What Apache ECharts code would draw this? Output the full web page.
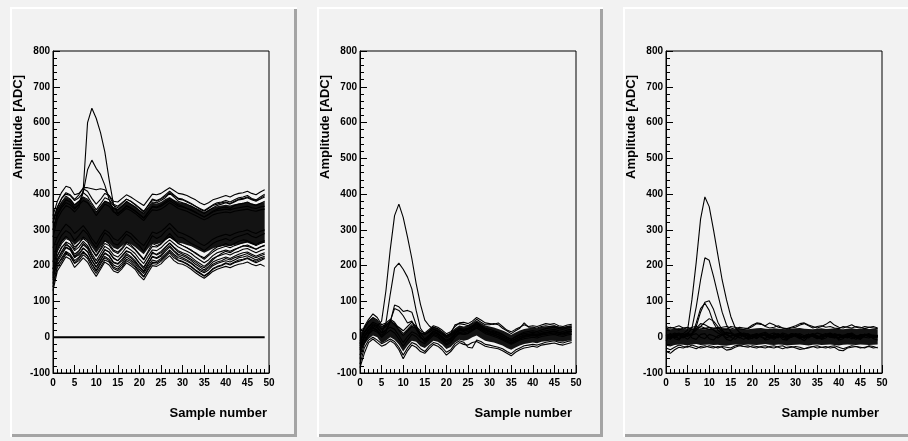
<!DOCTYPE html>
<html><head><meta charset="utf-8">
<script src="https://cdn.jsdelivr.net/npm/echarts@6/dist/echarts.min.js"></script>
<style>html,body{margin:0;padding:0;background:#f2f2f2}#c{width:908px;height:441px}</style>
</head><body><div id="c"></div><script>
const samples = [0,1,2,3,4,5,6,7,8,9,10,11,12,13,14,15,16,17,18,19,20,21,22,23,24,25,26,27,28,29,30,31,32,33,34,35,36,37,38,39,40,41,42,43,44,45,46,47,48,49];
const xTitle = 'Sample number';
const yTitle = 'Amplitude [ADC]';

// ---------- Panel 1 (raw) ----------
const p1CoreLow = [190,245,265,278,272,258,268,278,270,252, 235,252,268,262,250,245,255,265,260,252, 242,232,248,262,260,264,272,278,270,264, 262,258,254,248,242,236,242,248,252,254, 256,254,258,260,262,264,260,258,262,264];
const p1CoreHigh = [310,360,378,392,386,372,382,392,384,366, 350,366,382,376,364,360,370,380,374,366, 356,346,362,376,374,378,386,392,384,378, 376,372,368,362,356,350,356,362,366,368, 370,368,372,374,376,378,374,372,376,378];
const p1U1 = [340,380,405,422,418,398,402,415,408,388, 372,385,402,396,380,378,388,398,392,384, 376,368,384,400,398,402,410,418,410,402, 400,396,390,384,376,370,376,384,388,392, 396,392,398,402,404,408,402,398,406,412];
const p1U2 = [330,362,388,400,396,382,390,404,394,374, 356,372,390,384,368,362,374,386,380,370, 360,350,368,386,382,388,398,408,398,388, 386,380,374,366,360,354,362,370,376,378, 382,378,384,390,392,396,388,384,392,400];
const p1U3 = [320,356,378,394,386,370,380,392,386,368, 350,366,380,376,360,356,366,380,372,364, 354,346,362,378,376,382,390,402,392,380, 376,372,366,360,352,346,354,362,368,372, 376,372,378,384,386,390,384,380,386,392];
const p1U4 = [300,345,368,384,378,362,370,382,376,360, 340,356,372,366,350,346,356,368,362,354, 344,334,350,366,364,370,378,388,380,370, 366,360,356,350,342,336,344,352,358,362, 364,360,368,372,374,378,372,368,374,380];
const p1D1 = [130,185,205,225,218,195,208,222,210,188, 170,190,210,202,185,180,192,208,200,190, 172,160,180,200,198,205,218,228,214,206, 204,198,190,180,172,165,174,184,190,194, 198,194,200,204,206,210,204,200,204,198];
const p1D2 = [140,195,212,232,226,206,214,230,220,196, 178,196,216,210,192,186,196,214,206,196, 180,168,188,206,204,212,224,236,222,214, 210,204,196,186,178,170,178,190,196,200, 206,202,208,212,216,220,214,208,214,220];
const p1D3 = [150,200,222,240,232,214,224,240,228,206, 188,208,226,218,202,196,208,224,216,206, 190,178,198,216,212,220,232,244,232,222, 218,212,206,196,186,180,188,200,206,210, 214,210,216,222,224,228,222,216,222,226];
const p1D4 = [160,210,230,250,244,222,234,250,238,216, 196,216,236,228,210,206,218,234,226,214, 198,186,206,226,222,230,244,256,242,232, 228,222,214,204,196,188,198,210,216,220, 224,220,226,232,236,238,232,226,232,236];
const p1D5 = [170,218,240,258,252,232,242,258,248,224, 206,226,244,238,220,214,228,242,236,224, 208,196,216,234,232,240,252,264,252,242, 236,232,224,214,206,198,208,220,226,230, 234,230,236,240,246,248,242,236,242,246];
const p1D6 = [180,228,250,266,260,242,252,268,256,234, 214,234,254,246,230,224,236,252,244,234, 218,206,226,244,242,250,262,272,262,252, 246,240,234,224,216,208,216,228,236,240, 244,240,246,250,254,258,252,246,252,256];
const p1D7 = [200,205,218,236,228,208,220,236,226,204, 184,204,222,214,196,190,202,218,212,200, 184,170,192,210,208,216,228,240,228,216, 212,206,198,188,180,172,180,192,198,202, 208,204,210,216,218,222,216,212,218,222];
const p1D8 = [190,240,262,276,270,252,262,276,266,244, 226,244,262,256,240,234,246,262,254,244, 230,216,236,254,252,260,272,282,272,262, 256,250,244,234,226,218,228,238,246,250, 254,250,256,260,264,268,262,256,262,266];
const p1M1 = [210,262,285,298,290,270,284,300,288,266, 250,270,292,282,262,258,272,288,280,266, 256,240,262,284,276,282,296,306,292,280, 278,270,262,256,250,242,252,262,268,272, 276,270,278,282,286,290,282,278,284,290];
const p1M2 = [250,280,300,316,306,290,300,312,296,276, 260,282,300,292,276,270,282,296,290,278, 266,256,274,294,290,296,306,318,306,294, 290,284,278,270,262,256,264,274,280,284, 288,284,290,294,296,300,294,290,296,300];
const p1M3 = [175,228,252,262,250,226,240,262,252,228, 205,222,245,238,222,214,226,240,236,222, 206,192,214,238,230,236,250,262,250,238, 232,226,218,210,200,194,204,216,226,234, 240,236,244,250,256,254,250,246,252,258];
const p1M4 = [190,245,268,282,270,246,262,280,270,246, 228,248,270,260,244,238,250,266,258,246, 232,218,240,262,256,262,276,290,276,262, 256,250,242,236,228,222,232,244,252,256, 262,256,262,268,272,270,264,258,266,270];
const p1M5 = [165,215,236,252,246,224,230,248,240,214, 196,214,234,226,208,204,214,230,222,210, 196,182,204,224,220,226,240,252,240,228, 222,216,208,198,190,184,194,204,210,214, 220,216,222,226,230,234,228,222,228,232];
const p1PulseA = [300,340,362,376,370,358,372,412,600,640, 612,572,518,440,372,345,355,366,360,352, 342,332,348,364,362,366,374,382,374,366, 364,360,354,348,342,336,342,350,354,356, 358,356,360,362,364,366,362,360,364,366];
const p1PulseB = [280,330,352,368,362,350,364,405,468,495, 472,455,425,385,352,340,350,360,354,346, 336,326,342,356,354,358,366,376,368,360, 356,352,346,340,334,328,334,342,346,348, 350,348,352,354,356,358,354,352,356,358];
const p1PulseC = [320,365,388,404,398,385,398,418,418,415, 412,415,412,395,372,366,376,386,380,372, 362,352,368,384,380,386,394,404,396,386, 384,378,372,366,358,352,360,368,372,376, 378,374,380,386,388,392,386,382,388,396];
const p1Zero = [0,0,0,0,0,0,0,0,0,0, 0,0,0,0,0,0,0,0,0,0, 0,0,0,0,0,0,0,0,0,0, 0,0,0,0,0,0,0,0,0,0, 0,0,0,0,0,0,0,0,0,0];

// ---------- Panel 2 (pedestal subtracted) ----------
const p2CoreLow = [-45,-20,-5,5,0,-17,-10,0,-7,-20, -40,-23,-10,-13,-25,-30,-20,-10,-13,-20, -33,-27,-15,-7,-10,-7,0,5,-3,-10, -13,-15,-19,-23,-30,-35,-29,-23,-19,-17, -15,-17,-13,-11,-10,-9,-12,-13,-10,-9];
const p2CoreHigh = [10,30,45,55,47,30,37,45,37,23, 7,20,33,27,15,10,20,30,25,17, 7,13,25,33,30,33,40,47,40,33, 30,27,23,19,13,7,13,19,23,25, 27,25,29,30,32,33,30,29,31,33];
const p2E1 = [-20,30,50,65,55,35,40,50,42,25, 10,22,35,30,18,12,22,32,28,20, 10,15,30,40,42,38,45,55,48,40, 38,36,40,30,20,15,22,28,35,30, 32,30,34,38,36,38,32,30,34,36];
const p2E2 = [-85,-45,-15,-5,-15,-25,-20,-10,-18,-35, -60,-38,-22,-28,-40,-45,-32,-20,-25,-35, -50,-40,-25,-15,-20,-22,-15,-12,-18,-25, -28,-30,-32,-38,-45,-52,-42,-35,-30,-28, -25,-28,-22,-20,-18,-16,-20,-22,-18,-15];
const p2E3 = [-75,-30,-8,0,-8,-18,-12,-5,-12,-28, -50,-30,-15,-20,-32,-40,-25,-15,-18,-28, -42,-35,-18,-10,-14,-28,-30,-8,-12,-20, -22,-25,-28,-32,-40,-46,-36,-30,-24,-22, -20,-22,-18,-14,-12,-10,-14,-16,-12,-10];
const p2E4 = [20,25,45,55,48,30,36,45,38,20, 5,18,30,26,12,8,18,28,24,15, 5,10,35,38,36,32,40,50,42,35, 35,38,35,25,18,10,18,25,40,28, 28,26,30,32,30,32,28,26,30,32];
const p2E5 = [-60,-20,10,25,18,0,10,20,12,-5, -25,-8,8,2,-12,-18,-6,5,0,-10, -22,-15,0,12,8,12,20,30,22,15, 10,6,2,-4,-10,-18,-10,-4,2,4, 6,4,8,12,14,16,12,10,14,16];
const p2E6 = [-30,0,20,35,30,12,20,28,22,5, -15,2,15,10,-2,-8,4,15,10,0, -12,-5,10,20,18,22,30,42,32,25, 22,18,14,8,0,-6,2,8,14,16, 18,16,20,24,26,28,24,22,26,28];
const p2Q1 = [-10,12,28,38,32,45,130,245,340,372, 335,280,220,150,92,48,32,22,18,10, 2,8,18,25,22,25,32,38,30,22, 18,15,12,6,0,-6,0,6,10,12, 14,12,16,18,20,22,18,16,20,22];
const p2Q2 = [-25,5,22,32,26,12,40,120,193,207, 190,168,135,75,25,8,14,22,16,8, -2,4,14,22,20,22,28,36,28,20, 16,12,8,2,-4,-10,-4,2,6,8, 10,8,12,14,16,18,14,12,16,18];
const p2Q3 = [-35,0,15,28,20,5,20,42,90,85, 72,75,70,35,0,-10,2,12,8,-2, -12,-6,6,14,12,16,22,30,22,14, 10,6,2,-4,-10,-16,-10,-4,0,2, 4,2,6,8,10,12,8,6,10,12];
const p2Q4 = [-50,-10,8,20,14,0,14,45,80,75, 60,40,45,22,2,-14,-2,8,4,-6, -18,-10,2,10,8,10,18,26,18,10, 6,2,-2,-8,-14,-20,-14,-8,-4,-2, 0,-2,2,4,6,8,4,2,6,8];
const p2Q5 = [-15,15,30,42,36,22,30,48,35,28, 18,30,42,30,10,-5,6,18,12,2, -8,-2,10,18,16,20,26,34,26,18, 14,10,6,0,-6,-12,-6,0,4,6, 8,6,10,12,14,16,12,10,14,16];

// ---------- Panel 3 (corrected) ----------
const p3CoreLow = [-24,-26,-22,-20,-21,-23,-20,-19,-22,-21, -20,-22,-21,-23,-24,-22,-20,-21,-22,-20, -21,-22,-20,-19,-21,-22,-20,-21,-23,-22, -21,-20,-22,-23,-21,-20,-22,-21,-20,-22, -23,-21,-20,-21,-22,-20,-21,-22,-21,-20];
const p3CoreHigh = [24,22,24,26,23,22,24,25,23,22, 24,23,22,24,25,23,22,24,23,22, 24,25,26,24,23,25,24,23,22,24, 25,26,24,23,22,24,25,23,24,25, 23,22,24,25,23,24,25,23,24,22];
const p3F1 = [30,25,28,32,26,22,28,30,25,24, 28,26,24,28,30,26,22,28,26,24, 30,38,36,32,40,35,28,26,24,28, 32,38,40,34,30,26,30,36,44,34, 28,26,30,35,28,26,30,28,26,24];
const p3F2 = [22,28,24,20,26,28,22,24,30,26, 22,24,28,24,22,30,28,24,22,26, 34,40,38,30,26,28,32,26,22,26, 28,34,38,32,26,30,32,28,30,26, 24,30,28,26,30,28,24,28,30,26];
const p3F3 = [-40,-45,-35,-28,-30,-25,-28,-32,-26,-24, -28,-30,-26,-28,-36,-34,-28,-24,-26,-28, -24,-26,-28,-30,-26,-24,-28,-32,-28,-26, -30,-34,-32,-28,-26,-30,-28,-26,-30,-28, -36,-38,-30,-28,-26,-30,-28,-26,-30,-28];
const p3F4 = [-30,-35,-28,-22,-26,-28,-22,-26,-30,-28, -24,-26,-30,-26,-28,-30,-24,-22,-26,-24, -28,-30,-26,-24,-28,-30,-26,-24,-30,-28, -26,-28,-32,-30,-26,-24,-28,-30,-26,-24, -28,-32,-28,-24,-26,-28,-30,-24,-26,-30];
const p3F5 = [5,-5,8,12,2,-6,6,10,0,-4, 8,4,-2,6,10,0,-6,4,8,2, -4,6,10,4,-2,6,8,0,-6,4, 10,6,-2,2,8,0,-4,6,10,2, -4,4,8,0,-6,4,8,2,-2,4];
const p3F6 = [-10,10,-4,-8,6,12,-2,-6,8,10, -4,-8,4,8,-6,-10,2,8,4,-6, -2,10,4,-8,-4,8,6,-6,-8,4, 8,-2,-10,2,10,4,-6,-2,8,6, -8,-4,6,10,-2,-6,4,8,-4,-8];
const p3R1 = [2,-6,4,8,10,20,105,210,330,392, 365,300,230,160,105,58,27,14,8,4, 6,2,8,4,0,6,10,4,0,6, 2,-4,4,8,2,-2,6,4,0,8, 4,-2,6,2,0,8,4,2,6,4];
const p3R2 = [-4,2,8,4,-2,10,25,85,160,222, 215,170,120,70,35,15,6,10,2,-4, 4,8,0,-4,6,2,-2,8,4,0, 6,-2,2,8,4,-4,2,6,0,-2, 8,4,0,6,2,-4,4,8,2,0];
const p3R3 = [8,4,-2,6,10,2,10,30,70,98, 102,78,42,20,8,12,4,-2,6,10, 2,-4,6,10,4,-2,8,4,0,10, 6,-2,4,8,2,-4,6,10,4,0, 8,2,-2,6,4,0,8,6,2,-2];
const p3R4 = [-8,0,6,-4,2,8,5,40,80,95, 75,40,20,10,-2,4,8,0,-6,2, 6,-2,4,8,0,-6,2,6,-4,0, 8,4,-2,2,6,0,-4,4,8,-2, 0,6,2,-4,2,6,0,-2,4,2];
const p3R5 = [4,10,2,-4,6,10,8,20,30,42, 52,45,30,15,6,2,8,12,4,-2, 6,10,2,-4,8,12,6,0,4,10, 8,2,-2,6,10,4,0,8,12,6, -2,4,10,6,0,4,8,2,-2,6];
const p3R6 = [-2,6,12,8,0,4,10,25,38,35, 28,20,12,6,14,10,2,6,12,8, 0,4,10,14,6,-2,4,12,8,0, 6,10,4,-2,6,12,8,2,4,10, 6,0,8,12,4,0,6,10,4,2];

const panels = [
  {low:p1CoreLow, high:p1CoreHigh, traces:[p1U1,p1U2,p1U3,p1U4,p1D1,p1D2,p1D3,p1D4,p1D5,p1D6,p1D7,p1D8,p1M1,p1M2,p1M3,p1M4,p1M5,p1PulseA,p1PulseB,p1PulseC], thick:[p1Zero]},
  {low:p2CoreLow, high:p2CoreHigh, traces:[p2E1,p2E2,p2E3,p2E4,p2E5,p2E6,p2Q1,p2Q2,p2Q3,p2Q4,p2Q5], thick:[]},
  {low:p3CoreLow, high:p3CoreHigh, traces:[p3F1,p3F2,p3F3,p3F4,p3F5,p3F6,p3R1,p3R2,p3R3,p3R4,p3R5,p3R6], thick:[]}
];

const FONT = '"Liberation Sans", Arial, Helvetica, sans-serif';
const gridLeft = [53, 360, 666];
const padRects = [[10,7,297,437],[317,7,603,437],[623,7,912,437]];
const yTitleX = [18, 325, 631];
const xTitleX = [267, 572, 879];

const grids = [], xAxes = [], yAxes = [], series = [], graphics = [];
const pts = arr => arr.map((v,i)=>[samples[i], v]);

padRects.forEach(([x0,y0,x1,y1])=>{
  graphics.push({type:'rect', z:-10, silent:true, shape:{x:x0,y:y0,width:x1-x0,height:y1-y0}, style:{fill:'#f2f2f2'}});
  graphics.push({type:'rect', z:-9, silent:true, shape:{x:x0,y:y0,width:x1-x0,height:2}, style:{fill:'#ffffff'}});
  graphics.push({type:'rect', z:-9, silent:true, shape:{x:x0,y:y0,width:2,height:y1-y0}, style:{fill:'#ffffff'}});
  graphics.push({type:'rect', z:-9, silent:true, shape:{x:x1-3,y:y0+2,width:3,height:y1-y0-2}, style:{fill:'#a4a4a4'}});
  graphics.push({type:'rect', z:-9, silent:true, shape:{x:x0+2,y:y1-3,width:x1-x0-2,height:3}, style:{fill:'#a4a4a4'}});
});

panels.forEach((p,g)=>{
  grids.push({left:gridLeft[g], top:51, width:216, height:322, show:true, borderColor:'#000', borderWidth:1, backgroundColor:'transparent'});
  xAxes.push({type:'value', gridIndex:g, min:0, max:50, interval:5,
    axisLine:{onZero:false, lineStyle:{color:'#000',width:1}},
    axisTick:{inside:true, length:8, lineStyle:{color:'#000',width:1}},
    minorTick:{show:true, splitNumber:5, length:4, lineStyle:{color:'#000',width:1}},
    splitLine:{show:false},
    axisLabel:{color:'#000', fontWeight:'bold', fontSize:10, fontFamily:FONT, margin:5}});
  yAxes.push({type:'value', gridIndex:g, min:-100, max:800, interval:100,
    axisLine:{onZero:false, lineStyle:{color:'#000',width:1}},
    axisTick:{inside:true, length:7, lineStyle:{color:'#000',width:1}},
    minorTick:{show:true, splitNumber:5, length:4, lineStyle:{color:'#000',width:1}},
    splitLine:{show:false},
    axisLabel:{color:'#000', fontWeight:'bold', fontSize:10, fontFamily:FONT, margin:3}});
  const low = p.low, high = p.high;
  series.push({type:'custom', xAxisIndex:g, yAxisIndex:g, data:[[0,0]], silent:true, z:2, clip:true,
    renderItem:(params, api)=>{
      const poly = low.map((v,i)=>api.coord([samples[i], v]));
      for (let i = high.length-1; i >= 0; i--) poly.push(api.coord([samples[i], high[i]]));
      return {type:'polygon', shape:{points:poly}, style:{fill:'#000', opacity:0.92}};
    }});
  p.traces.forEach(t=>series.push({type:'line', xAxisIndex:g, yAxisIndex:g, data:pts(t), symbol:'none', silent:true, lineStyle:{color:'#000', width:1.1}, z:3}));
  p.thick.forEach(t=>series.push({type:'line', xAxisIndex:g, yAxisIndex:g, data:pts(t), symbol:'none', silent:true, lineStyle:{color:'#000', width:2}, z:3}));
  graphics.push({type:'text', x:yTitleX[g], y:127, rotation:Math.PI/2, z:10, silent:true,
    style:{text:yTitle, x:0, y:0, align:'center', verticalAlign:'middle', fill:'#000', font:'bold 13px '+FONT}});
  graphics.push({type:'text', x:xTitleX[g], y:413, z:10, silent:true,
    style:{text:xTitle, x:0, y:0, align:'right', verticalAlign:'middle', fill:'#000', font:'bold 13px '+FONT}});
});

const chart = echarts.init(document.getElementById('c'), null, {renderer:'canvas'});
chart.setOption({animation:false, backgroundColor:'#f2f2f2', grid:grids, xAxis:xAxes, yAxis:yAxes, series:series, graphic:graphics});
</script></body></html>
